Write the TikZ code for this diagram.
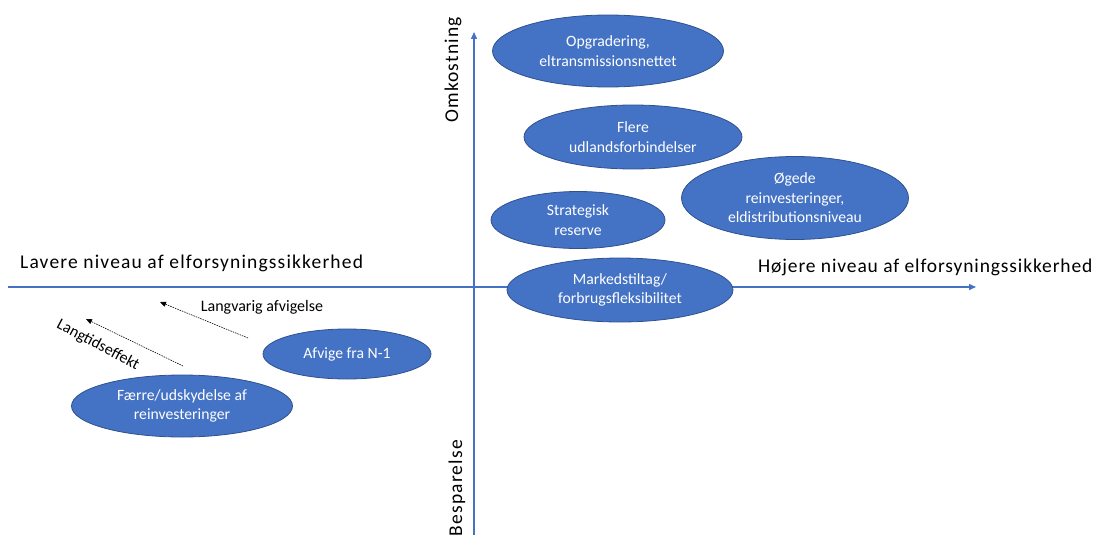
\documentclass[tikz,border=0pt]{standalone}
\usepackage{fontspec}
\setmainfont{Carlito}
\newfontfamily\spaced[LetterSpace=6]{Carlito}
\newfontfamily\spacedr[LetterSpace=4.5]{Carlito}
\usetikzlibrary{shapes.geometric, arrows.meta}
\definecolor{officeblue}{HTML}{4472C4}
\definecolor{ellborder}{HTML}{2F528F}

\begin{document}
\begin{tikzpicture}[x=1pt, y=-1pt]
    \tikzstyle{tiltag}=[ellipse, fill=officeblue, draw=ellborder, line width=.8pt, text=white, align=center, inner sep=0pt, font=\fontsize{15.7}{19.5}\selectfont];
    \tikzstyle{akse}=[draw=officeblue, line width=1.4pt, -{Triangle[length=7pt, width=6pt]}];
    \tikzstyle{aksetekst}=[inner sep=0pt, font=\spaced\fontsize{19.5}{22}\selectfont];
    \tikzstyle{effekt}=[black, line width=.6pt, dash pattern=on 1.5pt off 1pt, -{Triangle[length=6pt, width=5pt]}];
    \tikzstyle{effekttekst}=[inner sep=0pt, font=\fontsize{16}{18}\selectfont];
    \useasboundingbox (0,0) rectangle (1100,535);

    \coordinate (xstart) at (8,287);
    \coordinate (xend) at (976,287);
    \coordinate (ybot) at (474,535);
    \coordinate (ytop) at (474,32);
    \path[akse] (xstart) -- (xend);
    \path[akse] (ybot) -- (ytop);

    \node[aksetekst, anchor=base west] (lavere) at (20,268) {Lavere niveau af elforsyningssikkerhed};
    \node[aksetekst, anchor=base west, font=\spacedr\fontsize{19.5}{22}\selectfont] (hoejere) at (758,272) {Højere niveau af elforsyningssikkerhed};
    \node[aksetekst, anchor=base west, rotate=90] (omk) at (458,123) {Omkostning};
    \node[aksetekst, anchor=base east, rotate=90] (besp) at (462,440) {Besparelse};

    \node[tiltag, minimum width=231pt, minimum height=72pt] (opgr) at (608,51) {Opgradering,\\eltransmissionsnettet};
    \node[tiltag, minimum width=218pt, minimum height=64pt] (flere) at (633,137) {Flere\\udlandsforbindelser};
    \node[tiltag, minimum width=227pt, minimum height=83pt] (oeg) at (795,198) {Øgede\\reinvesteringer,\\eldistributionsniveau};
    \node[tiltag, minimum width=174pt, minimum height=57pt] (strat) at (578,220) {Strategisk\\reserve};
    \node[tiltag, minimum width=226pt, minimum height=64pt] (marked) at (620,290) {Markedstiltag/\\forbrugsfleksibilitet};
    \node[tiltag, minimum width=168pt, minimum height=50pt] (afvig) at (347,354) {Afvige fra N-1};
    \node[tiltag, minimum width=221pt, minimum height=62pt] (faerre) at (182,406) {Færre/udskydelse af\\reinvesteringer};

    \coordinate (afvfra) at (248,338);
    \coordinate (afvtil) at (160,302);
    \coordinate (langfra) at (183,366);
    \coordinate (langtil) at (86,319);
    \path[effekt] (afvfra) edge (afvtil);
    \path[effekt] (langfra) edge (langtil);
    \node[effekttekst] (langvarig) at (262,307) {Langvarig afvigelse};
    \node[effekttekst, rotate=-28] (langtid) at (98,345) {Langtidseffekt};
\end{tikzpicture}
\end{document}
